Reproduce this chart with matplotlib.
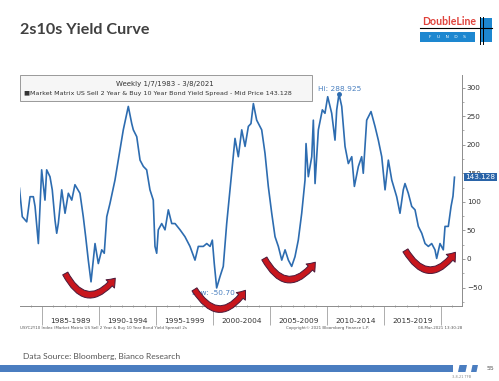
import numpy as np
import matplotlib
matplotlib.use("Agg")
import matplotlib.pyplot as plt
import matplotlib.transforms as mtransforms
from matplotlib.patches import Rectangle, Polygon, FancyArrowPatch

# 2s10s spread (bp), x in decimal years
years = [1983.02, 1983.27, 1983.66, 1983.95, 1984.24, 1984.39, 1984.68, 1984.97,
         1985.26, 1985.41, 1985.70, 1985.90, 1986.14, 1986.29, 1986.43, 1986.73,
         1987.02, 1987.31, 1987.61, 1987.89, 1988.33, 1988.62, 1988.83, 1989.06,
         1989.30, 1989.65, 1989.94, 1990.24, 1990.46, 1990.68, 1990.96, 1991.40,
         1991.84, 1992.13, 1992.57, 1992.87, 1993.01, 1993.31, 1993.60, 1993.89,
         1994.18, 1994.47, 1994.76, 1994.91, 1995.06, 1995.20, 1995.50, 1995.79,
         1996.08, 1996.38, 1996.67, 1997.11, 1997.54, 1997.98, 1998.42, 1998.71,
         1999.15, 1999.45, 1999.74, 1999.94, 2000.11, 2000.32, 2000.61, 2000.90,
         2001.20, 2001.49, 2001.64, 2001.93, 2002.22, 2002.52, 2002.81, 2003.10,
         2003.33, 2003.54, 2003.83, 2004.27, 2004.56, 2004.85, 2005.15, 2005.44,
         2005.73, 2006.03, 2006.32, 2006.61, 2006.90, 2007.19, 2007.48, 2007.78,
         2008.07, 2008.16, 2008.36, 2008.66, 2008.80, 2008.95, 2009.24, 2009.59,
         2009.82, 2010.06, 2010.41, 2010.70, 2010.85, 2011.05, 2011.29, 2011.58,
         2011.87, 2012.17, 2012.40, 2012.75, 2013.04, 2013.18, 2013.48, 2013.86,
         2014.21, 2014.50, 2014.80, 2015.09, 2015.38, 2015.68, 2016.11, 2016.40,
         2016.69, 2016.84, 2017.13, 2017.43, 2017.72, 2018.01, 2018.31, 2018.60,
         2018.89, 2019.18, 2019.47, 2019.62, 2019.91, 2020.20, 2020.35, 2020.64,
         2020.88, 2021.05, 2021.18]
spread_bp = [124, 74, 65, 109, 109, 92, 27, 156,
             103, 156, 144, 121, 68, 45, 62, 121,
             80, 115, 103, 130, 115, 74, 39, -2,
             -40, 27, -8, 16, 10, 74, 97, 138,
             191, 226, 267, 237, 226, 214, 173, 162,
             156, 121, 103, 22, 10, 51, 62, 51,
             86, 62, 62, 51, 39, 22, -2, 22,
             22, 27, 22, 33, -8, -50.70, -31, -13,
             62, 121, 150, 211, 179, 226, 197, 232,
             237, 272, 243, 226, 185, 127, 80, 39,
             22, -2, 16, -2, -13, 4, 33, 80,
             138, 202, 144, 179, 243, 132, 226, 261,
             255, 284, 255, 208, 261, 288.925, 267, 197,
             167, 179, 127, 162, 179, 150, 243, 258,
             232, 208, 179, 121, 173, 138, 109, 80,
             121, 132, 115, 92, 86, 57, 45, 27,
             22, 27, 16, 1, 27, 16, 57, 57,
             92, 110, 143.128]

period_labels = ["1985-1989", "1990-1994", "1995-1999", "2000-2004",
                 "2005-2009", "2010-2014", "2015-2019"]
period_starts = [1985, 1990, 1995, 2000, 2005, 2010, 2015]
y_ticks = [-50, 0, 50, 100, 150, 200, 250, 300]

hi_year, hi_val = 2011.05, 288.925
low_year, low_val = 2000.32, -50.70
last_val = 143.128

W, H = 499, 381
line_blue = "#2d6cb0"
fig = plt.figure(figsize=(W / 100, H / 100), dpi=100)
fig.patch.set_facecolor("white")


def fx(x):
    return x / W


def fy(y):
    return 1 - y / H


ax = fig.add_axes([fx(20), fy(306), 442 / W, 231 / H])
ax.plot(years, spread_bp, color=line_blue, lw=1.2, solid_joinstyle="round")
ax.set_xlim(1983.07, 2021.84)
ax.set_ylim(-82.3, 322)

# spines / ticks
for s in ["left", "top"]:
    ax.spines[s].set_visible(False)
ax.spines["right"].set_color("#8c8c8c")
ax.spines["bottom"].set_color("#8c8c8c")
ax.spines["right"].set_linewidth(0.7)
ax.spines["bottom"].set_linewidth(0.7)
ax.yaxis.tick_right()
ax.set_yticks(y_ticks)
ax.set_yticks(np.arange(-75, 325, 25), minor=True)
ax.tick_params(axis="y", which="major", length=2.5, width=0.6, pad=1,
               labelsize=5.2, colors="#8c8c8c", labelcolor="#333333")
ax.tick_params(axis="y", which="minor", length=1.5, width=0.5, colors="#8c8c8c")
ax.set_xticks(period_starts + [2020])
ax.set_xticklabels([])
ax.set_xticks(np.arange(1984, 2022, 1), minor=True)
ax.tick_params(axis="x", which="major", length=14, width=0.6, colors="#a0a0a0")
ax.tick_params(axis="x", which="minor", length=2, width=0.5, direction="inout",
               colors="#8c8c8c")

xt = mtransforms.blended_transform_factory(ax.transData, fig.transFigure)
for lab, st in zip(period_labels, period_starts):
    ax.text(st + 2.5, fy(321), lab, transform=xt, ha="center", va="center",
            fontsize=5.3, color="#333333", clip_on=False)

# last value tag (sits over the 150 label, as on the terminal)
yt = mtransforms.blended_transform_factory(ax.transAxes, ax.transData)
ax.text(1.008, last_val, "143.128", transform=yt, ha="left", va="center",
        fontsize=5.2, color="white", clip_on=False, zorder=10,
        bbox=dict(boxstyle="square,pad=0.15", fc="#2a64a8", ec="none"))

# hi / low markers
ax.plot([hi_year], [hi_val], "o", ms=2.5, color=line_blue)
ax.text(fx(318), fy(89), "Hi: 288.925", transform=fig.transFigure,
        fontsize=5.3, color="#4a80c0", va="center", ha="left")
ax.text(fx(192), fy(293), "Low: -50.70", transform=fig.transFigure,
        fontsize=5.3, color="#4a80c0", va="center", ha="left")

# header box
fig.patches.append(Rectangle((fx(20), fy(101)), fx(292), 26 / H,
                             transform=fig.transFigure, fc="#f6f6f6",
                             ec="#9a9a9a", lw=0.7))
fig.text(fx(165), fy(84), "Weekly 1/7/1983 - 3/8/2021", fontsize=5,
         color="#333333", ha="center", va="center")
fig.text(fx(24), fy(93),
         "\u25a0Market Matrix US Sell 2 Year & Buy 10 Year Bond Yield Spread - Mid Price 143.128",
         fontsize=4.55, color="#333333", ha="left", va="center")

# red turn arrows (pixel coords of chart image)
arrow_px = [((64, 271), (117, 276)),
            ((193, 287), (247, 288)),
            ((263, 256), (317, 260)),
            ((404, 248), (457, 250))]
for (a, b) in arrow_px:
    arr = FancyArrowPatch((fx(a[0]), fy(a[1])), (fx(b[0]), fy(b[1])),
                          transform=fig.transFigure,
                          connectionstyle="arc3,rad=0.8",
                          arrowstyle="simple,head_width=8.5,head_length=5.5,tail_width=4.2",
                          fc="#c8161d", ec="#4a1a3a", lw=0.7, zorder=5)
    fig.patches.append(arr)

# source lines under chart
fig.text(fx(20), fy(328),
         "USYC2Y10 Index (Market Matrix US Sell 2 Year & Buy 10 Year Bond Yield Spread) 2s",
         fontsize=2.9, color="#555555", ha="left", va="center")
fig.text(fx(327), fy(328), "Copyright\u00a9 2021 Bloomberg Finance L.P.",
         fontsize=2.9, color="#555555", ha="center", va="center")
fig.text(fx(462), fy(328), "08-Mar-2021 13:30:28",
         fontsize=2.9, color="#555555", ha="right", va="center")

# slide title
fig.text(fx(20), fy(30), "2s10s Yield Curve", fontsize=11.6, fontweight="bold",
         family="Lato", color="#404040", ha="left", va="center")
fig.text(fx(23), fy(356), "Data Source: Bloomberg, Bianco Research", fontsize=6.1,
         family="Lato", color="#555555", ha="left", va="center")

# DoubleLine logo
fig.text(fx(422), fy(21.5), "DoubleLine", fontsize=7.6, fontweight="bold",
         family="Lato", color="#e0413a", ha="left", va="center")
fig.patches.append(Rectangle((fx(420), fy(42)), 55 / W, 10 / H,
                             transform=fig.transFigure, fc="#1d87d0", ec="none"))
fig.patches.append(Rectangle((fx(481), fy(42)), 11 / W, 24 / H,
                             transform=fig.transFigure, fc="#1d87d0", ec="none"))
fig.text(fx(447), fy(37), "F    U    N    D    S", fontsize=3.2, color="white",
         ha="center", va="center")
fig.add_artist(plt.Line2D([fx(420), fx(492)], [fy(28), fy(28)],
                          transform=fig.transFigure, color="black", lw=0.8))
fig.add_artist(plt.Line2D([fx(480), fx(480)], [fy(17), fy(44)],
                          transform=fig.transFigure, color="black", lw=0.7))
fig.add_artist(plt.Line2D([fx(483), fx(483)], [fy(17), fy(44)],
                          transform=fig.transFigure, color="black", lw=0.7))

# footer bar
fig.patches.append(Rectangle((0, fy(372)), fx(453), 7 / H,
                             transform=fig.transFigure, fc="#4a7dc0", ec="none"))
for x0, x1 in [(458, 467), (471, 478)]:
    fig.patches.append(Polygon([(fx(x0), fy(372)), (fx(x1 - 1.5), fy(372)),
                                (fx(x1), fy(365)), (fx(x0 + 1.5), fy(365))],
                               closed=True, transform=fig.transFigure,
                               fc="#4a7dc0", ec="none"))
fig.text(fx(490), fy(368), "55", fontsize=4.5, color="#555555",
         ha="center", va="center")
fig.text(fx(462), fy(377), "3-8-21 TFB", fontsize=2.5, color="#888888",
         ha="center", va="center")

fig.savefig("out.png", dpi=100)
